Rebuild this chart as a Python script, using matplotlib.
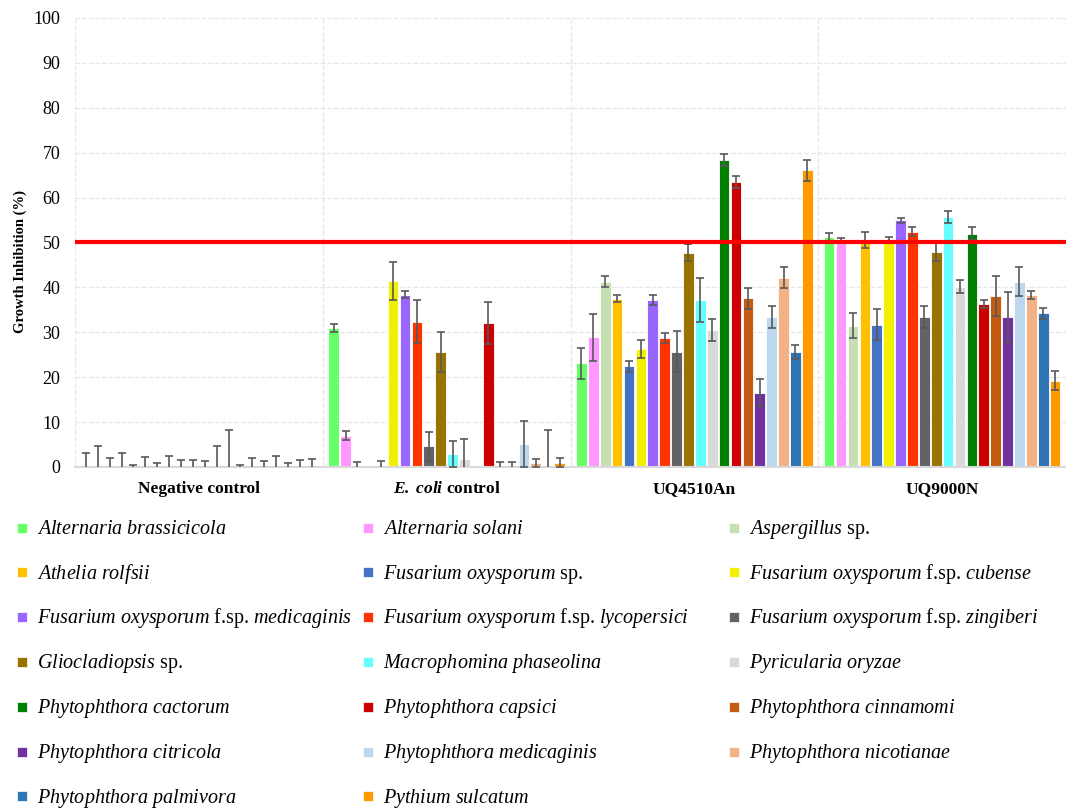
import numpy as np
import matplotlib
matplotlib.use('Agg')
from matplotlib import pyplot as plt
from matplotlib.patches import Rectangle

plt.rcParams['font.family'] = ['Liberation Serif', 'DejaVu Serif']
plt.rcParams['mathtext.fontset'] = 'custom'
plt.rcParams['mathtext.rm'] = 'Liberation Serif'
plt.rcParams['mathtext.it'] = 'Liberation Serif:italic'
plt.rcParams['mathtext.bf'] = 'Liberation Serif:bold'
plt.rcParams['mathtext.bfit'] = 'Liberation Serif:italic:bold'

groups = ['Negative control', r'$\mathbfit{E.\ coli}$ control', 'UQ4510An', 'UQ9000N']

species = [
    r'$\mathit{Alternaria\ brassicicola}$',
    r'$\mathit{Alternaria\ solani}$',
    r'$\mathit{Aspergillus}$ sp.',
    r'$\mathit{Athelia\ rolfsii}$',
    r'$\mathit{Fusarium\ oxysporum}$ sp.',
    r'$\mathit{Fusarium\ oxysporum}$ f.sp. $\mathit{cubense}$',
    r'$\mathit{Fusarium\ oxysporum}$ f.sp. $\mathit{medicaginis}$',
    r'$\mathit{Fusarium\ oxysporum}$ f.sp. $\mathit{lycopersici}$',
    r'$\mathit{Fusarium\ oxysporum}$ f.sp. $\mathit{zingiberi}$',
    r'$\mathit{Gliocladiopsis}$ sp.',
    r'$\mathit{Macrophomina\ phaseolina}$',
    r'$\mathit{Pyricularia\ oryzae}$',
    r'$\mathit{Phytophthora\ cactorum}$',
    r'$\mathit{Phytophthora\ capsici}$',
    r'$\mathit{Phytophthora\ cinnamomi}$',
    r'$\mathit{Phytophthora\ citricola}$',
    r'$\mathit{Phytophthora\ medicaginis}$',
    r'$\mathit{Phytophthora\ nicotianae}$',
    r'$\mathit{Phytophthora\ palmivora}$',
    r'$\mathit{Pythium\ sulcatum}$',
]

colors = ['#66FF66', '#FF99FF', '#C6E0B4', '#FFC000', '#4472C4', '#F2F000',
          '#9966FF', '#FF3300', '#636363', '#997300', '#66FFFF', '#D9D9D9',
          '#008000', '#CC0000', '#C55A11', '#7030A0', '#BDD7EE', '#F4B183',
          '#2E75B6', '#FF9900']

# growth inhibition (%) per group, one value per species
neg_vals = [0] * 20
neg_err = [3.1, 4.6, 1.9, 3.2, 0.35, 2.2, 0.9, 2.4, 1.5, 1.6,
           1.3, 4.6, 8.3, 0.35, 2.1, 1.4, 2.4, 1.0, 1.6, 1.7]

ecoli_vals = [31.0, 7.0, 0, 0, 0, 41.5, 38.4, 32.4, 4.6, 25.7,
              2.9, 1.85, 0, 32.1, 0, 0, 5.2, 0.9, 0, 0.9]
ecoli_err = [0.95, 1.0, 1.2, 0, 1.4, 4.2, 0.8, 4.7, 3.2, 4.45,
             2.8, 4.4, 0, 4.7, 1.1, 1.2, 5.1, 0.95, 8.2, 1.0]

uq4510_vals = [23.1, 28.9, 41.3, 37.5, 22.4, 26.3, 37.2, 28.7, 25.7, 47.7,
               37.3, 30.5, 68.4, 63.5, 37.6, 16.5, 33.4, 42.2, 25.6, 66.1]
uq4510_err = [3.4, 5.2, 1.2, 0.7, 1.2, 2.0, 1.2, 1.15, 4.6, 1.9,
              4.9, 2.4, 1.3, 1.3, 2.35, 3.0, 2.55, 2.25, 1.5, 2.3]

uq9000_vals = [51.2, 50.6, 31.5, 50.6, 31.7, 50.8, 54.9, 52.4, 33.4, 47.9,
               55.7, 40.2, 52.0, 36.4, 38.1, 33.4, 41.3, 38.4, 34.2, 19.2]
uq9000_err = [1.0, 0.5, 2.7, 1.8, 3.4, 0.5, 0.45, 1.0, 2.5, 2.0,
              1.3, 1.4, 1.4, 0.9, 4.4, 5.5, 3.3, 0.9, 1.3, 2.15]

threshold = 50

vals = np.array([neg_vals, ecoli_vals, uq4510_vals, uq9000_vals])
errs = np.array([neg_err, ecoli_err, uq4510_err, uq9000_err])

W, H = 1066, 808
fig = plt.figure(figsize=(W / 100, H / 100), dpi=100)
ax = fig.add_axes([75 / W, 1 - 467 / H, 991 / W, 449 / H])

x = np.arange(len(groups))
n = len(species)
pitch = 0.048
width = 0.043
for i in range(n):
    pos = x + (i - (n - 1) / 2) * pitch
    ax.bar(pos, vals[:, i], width, color=colors[i], edgecolor='white',
           linewidth=0.6, zorder=2)
    has_err = errs[:, i] > 0
    ax.errorbar(pos[has_err], vals[has_err, i], yerr=errs[has_err, i], fmt='none',
                ecolor='#595959', elinewidth=1.2, capsize=3, capthick=1.2,
                zorder=3)

ax.axhline(threshold, color='#FF0000', lw=3, zorder=5)

ax.set_xlim(-0.5, len(groups) - 0.5)
ax.set_ylim(0, 100)
ax.set_yticks(range(0, 101, 10))
ax.set_xticks(x)
ax.set_xticklabels(groups, fontsize=12.5, fontweight='bold')
ax.tick_params(axis='y', labelsize=13, length=0, pad=10.5)
ax.tick_params(axis='x', length=0, pad=10)

ax.grid(axis='y', color='#E6E6E6', linestyle='--', lw=0.9, zorder=0)
for b in np.arange(-0.5, len(groups), 1.0):
    ax.axvline(b, color='#E6E6E6', linestyle='--', lw=0.9, zorder=0)

for s in ['top', 'right', 'left']:
    ax.spines[s].set_visible(False)
ax.spines['bottom'].set_color('#D9D9D9')
ax.spines['bottom'].set_linewidth(1.5)

ax.set_ylabel('Growth Inhibition (%)', fontsize=10.5, fontweight='bold')
ax.yaxis.set_label_coords(-0.0484, 0.457)

# legend grid below the plot, filled row by row (3 columns)
col_x = [17, 363, 729]
row_y0, row_dy = 527.5, 44.8
for i in range(n):
    r, c = divmod(i, 3)
    yc = row_y0 + r * row_dy
    fig.add_artist(Rectangle((col_x[c] / W, 1 - (yc + 5) / H), 10 / W, 10 / H,
                             transform=fig.transFigure, facecolor=colors[i],
                             edgecolor='white', linewidth=0.5))
    fig.text((col_x[c] + 20) / W, 1 - (yc + 6.3) / H, species[i],
             fontsize=14.5, ha='left', va='baseline')

plt.savefig('out.png', dpi=100)
